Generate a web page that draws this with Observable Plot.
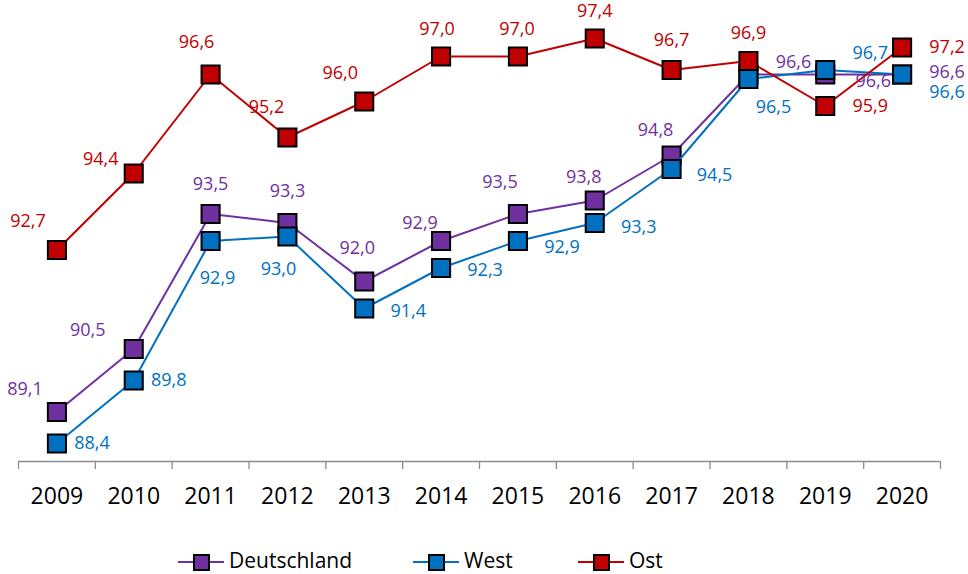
<!DOCTYPE html>
<html><head><meta charset="utf-8">
<script src="https://cdn.jsdelivr.net/npm/d3@7"></script>
<script src="https://cdn.jsdelivr.net/npm/@observablehq/plot@0.6"></script>
<style>
body{margin:0;background:#fff;font-family:"Open Sans",sans-serif;overflow:hidden;}
#chart svg{display:block;overflow:visible;}
#legend{position:relative;height:54px;width:968px;}
.item{position:absolute;top:29px;display:flex;align-items:center;font-size:21px;color:#000;height:22px;line-height:22px;white-space:nowrap;}
.sym{position:relative;width:46px;height:22px;margin-right:5px;}
.sym .ln{position:absolute;left:0;right:0;top:12px;height:2px;}
.sym .sq{position:absolute;left:15px;top:5px;width:13px;height:13px;border:2px solid #000;}
</style></head><body>
<div id="chart"></div>
<div id="legend"></div>
<script>
const years = [2009, 2010, 2011, 2012, 2013, 2014, 2015, 2016, 2017, 2018, 2019, 2020];
const deutschland = [89.1, 90.5, 93.5, 93.3, 92.0, 92.9, 93.5, 93.8, 94.8, 96.6, 96.6, 96.6];
const west = [88.4, 89.8, 92.9, 93.0, 91.4, 92.3, 92.9, 93.3, 94.5, 96.5, 96.7, 96.6];
const ost = [92.7, 94.4, 96.6, 95.2, 96.0, 97.0, 97.0, 97.4, 96.7, 96.9, 95.9, 97.2];
const seriesNames = ["Deutschland", "West", "Ost"];
const seriesColors = ["#7030A0", "#0070C0", "#C00000"];

// label placement offsets (pixels) per point, layout only
const offDeutschland = [[-32,-23],[-46,-19],[0,-30],[0,-32],[-7,-33],[-21,-18],[-18,-32],[-11,-23],[-16,-25],[45,-12],[48,7],[45,-2]];
const offWest = [[35,0],[35,0],[7,37],[-9,33],[44,3],[44,2],[44,6],[44,4],[43,6],[25,28],[45,-17],[45,18]];
const offOst = [[-29,-29],[-33,-14],[-14,-32],[-21,-30],[-24,-28],[-4,-27],[-1,-27],[0,-27],[0,-30],[0,-28],[45,0],[45,0]];

const valuesBySeries = [deutschland, west, ost];
const offsetsBySeries = [offDeutschland, offWest, offOst];
const fmt = v => v.toFixed(1).replace(".", ",");

const edges = years.map(y => y - 0.5).concat([years[years.length - 1] + 0.5]);

const marks = [
  Plot.ruleY([88], {stroke: "#8c8c8c", strokeWidth: 1.3}),
  Plot.axisX(edges, {tickSize: 8, stroke: "#8c8c8c", strokeWidth: 1.3, tickFormat: () => "", label: null}),
  Plot.axisX(years, {tickSize: 0, tickPadding: 26, fontSize: 23, fill: "#000", tickFormat: d => String(d), label: null})
];

seriesNames.forEach((name, s) => {
  const rows = years.map((year, i) => ({year, value: valuesBySeries[s][i], series: name}));
  marks.push(Plot.line(rows, {x: "year", y: "value", stroke: seriesColors[s], strokeWidth: 2}));
  marks.push(Plot.dot(rows, {x: "year", y: "value", symbol: "square", r: 10.2, fill: seriesColors[s], stroke: "#000", strokeWidth: 2}));
});

seriesNames.forEach((name, s) => {
  years.forEach((year, i) => {
    const [dx, dy] = offsetsBySeries[s][i];
    marks.push(Plot.text([{year, value: valuesBySeries[s][i]}], {
      x: "year", y: "value", text: d => fmt(d.value), dx, dy,
      fill: seriesColors[s], fontSize: 18, textAnchor: "middle", lineAnchor: "middle"
    }));
  });
});

const chart = Plot.plot({
  width: 968,
  height: 520,
  marginLeft: 18,
  marginRight: 28,
  marginTop: 11,
  marginBottom: 59,
  style: {fontFamily: "'Open Sans', sans-serif", background: "#fff"},
  x: {type: "linear", domain: [2008.5, 2020.5], label: null},
  y: {domain: [88, 98], axis: null},
  marks
});
document.getElementById("chart").appendChild(chart);

const legend = document.getElementById("legend");
const legendLeft = [178, 413, 578];
seriesNames.forEach((name, s) => {
  const item = document.createElement("div");
  item.className = "item";
  item.style.left = legendLeft[s] + "px";
  item.innerHTML = `<div class="sym"><div class="ln" style="background:${seriesColors[s]}"></div><div class="sq" style="background:${seriesColors[s]}"></div></div><span>${name}</span>`;
  legend.appendChild(item);
});
</script>
</body></html>
